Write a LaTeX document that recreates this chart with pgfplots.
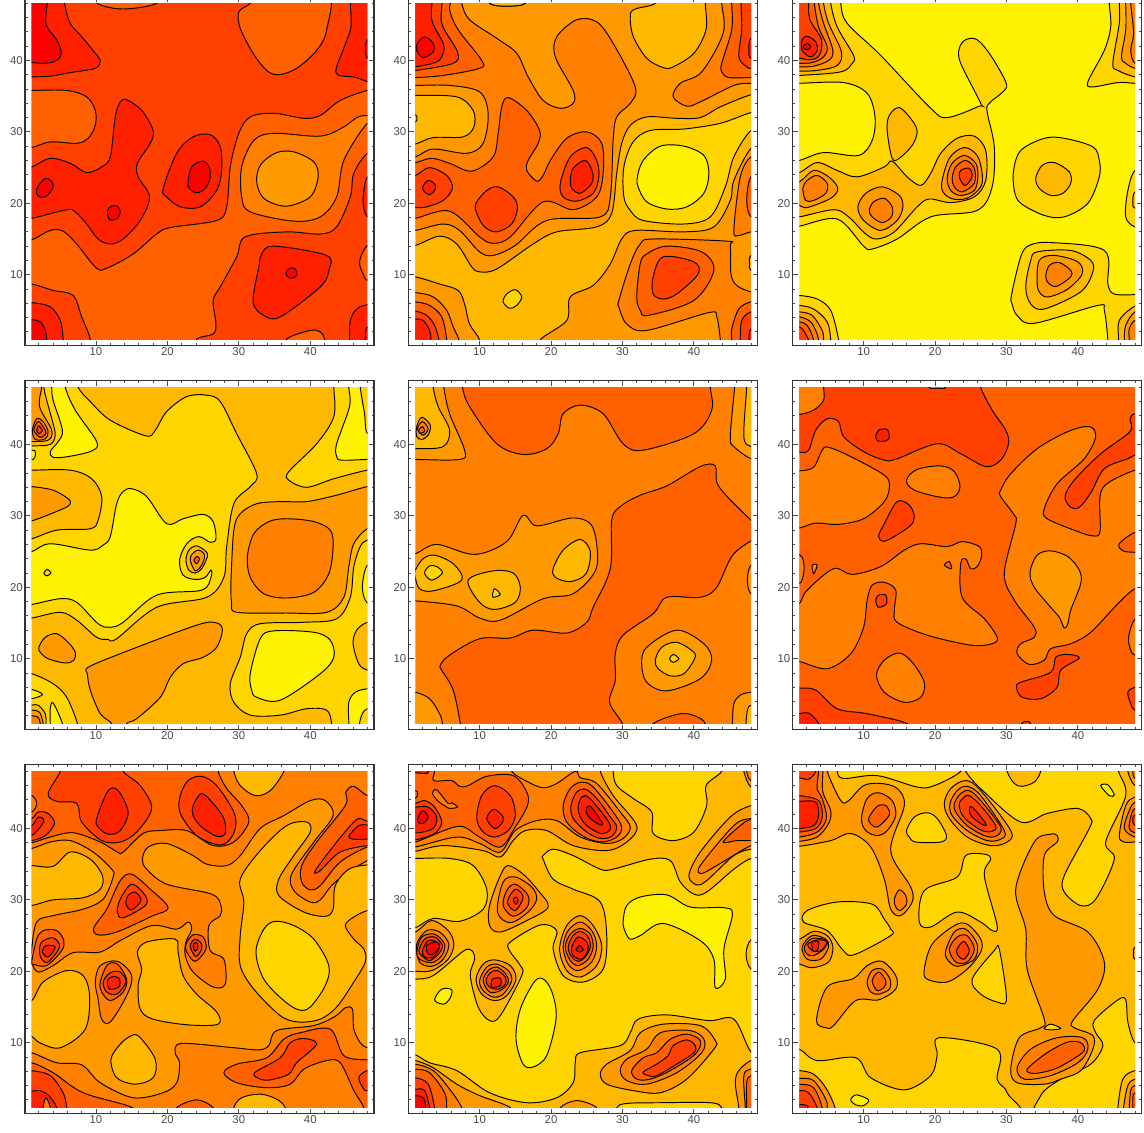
\documentclass[border=0pt]{standalone}
\usepackage{pgfplots}
\pgfplotsset{compat=1.18}
\usepackage{fontspec}
\setmainfont{Liberation Sans}
\definecolor{la}{HTML}{FF0000}
\definecolor{lb}{HTML}{FF2000}
\definecolor{lc}{HTML}{FF4000}
\definecolor{ld}{HTML}{FF6000}
\definecolor{le}{HTML}{FF8000}
\definecolor{lf}{HTML}{FF9900}
\definecolor{lg}{HTML}{FFB800}
\definecolor{lh}{HTML}{FFD500}
\definecolor{li}{HTML}{FFF200}
\pgfplotsset{
  frame/.style={scale only axis,width=174.43pt,height=174.43pt,anchor=south west,
    xmin=0.08,xmax=48.92,ymin=0.08,ymax=48.92,
    xtick={10,20,30,40},ytick={10,20,30,40},
    minor xtick={2,4,...,48},minor ytick={2,4,...,48},
    tick align=inside,major tick length=2.4pt,minor tick length=1.2pt,
    every tick/.style={black!70,line width=.4pt},
    axis line style={black!80,line width=.65pt},
    tick label style={font=\fontsize{5.7}{6}\selectfont,text=black!70,inner sep=1pt},
    /pgf/number format/assume math mode=true},
  field/.style={scale only axis,width=167.85pt,height=167.85pt,anchor=south west,
    xmin=1,xmax=48,ymin=1,ymax=48,hide axis},
}
\newcommand\R[2]{\addplot[fill=#1,draw=black,line width=.48pt,smooth cycle,tension=.55] coordinates {#2};}
\newcommand\B[1]{\addplot[fill=#1,draw=none] coordinates {(-1,-1)(50,-1)(50,50)(-1,50)} --cycle;}
\begin{document}
\begin{tikzpicture}
\useasboundingbox (0,0) rectangle (572pt,566pt);
\clip (0,0) rectangle (572pt,566pt);
% ---- row 1, left
\begin{axis}[frame,at={(12.56pt,393.21pt)}]\end{axis}
\begin{axis}[field,at={(15.85pt,396.5pt)}]
\B{lc}
\R{ld}{(10.2,50)(10.2,48)(13.8,47.2)(18.5,48)(18.5,50)}
\R{lb}{(5.5,50)(5.6,48)(6.4,45.2)(8.2,43.1)(10.3,40.5)(10.6,39.9)(9.9,38.9)(6.4,38.3)(3.6,37.8)(1,37.7)(-1,37.7)(-1,50)}
\R{la}{(3,50)(3,45.2)(4.5,42.9)(5.1,41.4)(5,40.5)(4.1,39.8)(2.6,39.6)(1,39.7)(-1,39.7)(-1,50)}
\R{ld}{(33,50)(31.6,48)(30,46.8)(30.2,44.5)(32,41)(33.9,38.6)(35.6,38)(38.1,38.9)(40.9,41.4)(42.3,44.3)(42.3,50)}
\R{lb}{(45.6,50)(45.6,48)(45.7,44.7)(44.8,42)(43.7,39.1)(43.8,38)(46,37.7)(50,37.7)(50,50)}
\R{la}{(48.1,43)(47.7,41.5)(48.1,40.2)(50,40)(50,43)}
\R{ld}{(-1,35.8)(1,35.8)(5.9,35.8)(8.7,34.9)(9.9,33)(9.9,30.9)(8.9,29.1)(7.3,28.4)(3.6,28.6)(1,27.8)(-1,27.8)}
\R{lb}{(-1,25.1)(1,25.1)(3.6,26.3)(6.4,25.6)(8.7,24.3)(10.8,25.1)(12,26.5)(12.7,32.1)(13.4,34.2)(14.3,34.5)(16.4,33)(18,30.2)(17.6,28.4)(15.8,25.6)(15.9,23.7)(17.5,20.9)(16.2,17.6)(13.8,15)(12,14.3)(10.3,15)(8.7,17.1)(7.1,18.8)(5.9,19.1)(1,17.9)(-1,17.9)}
\R{la}{(1.7,22)(2.9,23.5)(3.9,22.9)(3.9,22)(2.9,20.9)(1.9,21)}
\R{la}{(11.6,19)(12.2,19.6)(13,19.6)(13.4,18.8)(13,17.9)(11.9,17.7)}
\R{lb}{(19.4,22)(21.3,27)(23.6,29.3)(26,29.6)(27.4,27.9)(27.6,24.6)(26.9,21.8)(24.6,19.5)(21.8,19.5)(19.9,20.9)}
\R{la}{(22.9,23)(23.4,25.1)(25,25.9)(25.9,24.9)(25.9,23.2)(25,21.8)(23.9,21.5)(23,22.2)}
\R{ld}{(-1,14.9)(1,14.9)(3.6,16.2)(5.4,16.1)(7.3,14.3)(10.1,10.9)(11.7,11)(15.2,12.9)(18.5,15.7)(20.4,16.6)(26.9,17.6)(28.3,19.5)(28.8,25.1)(30,29.8)(31.6,32.1)(34.9,32.6)(39.1,31.9)(41.4,32.3)(44.2,34.4)(48,35.8)(50,35.8)(50,27)(48,27)(46.1,24.2)(45.6,20.9)(43.7,16.7)(41.4,15.7)(36.7,16)(30.9,15.3)(29.7,12.5)(27.4,8.3)(26.4,6.4)(26.8,3.1)(26.4,1.7)(24.1,1)(24,-1)(9.2,-1)(9.2,1)(8,4.1)(6.8,7.1)(4,7.8)(1,8.7)(-1,8.7)}
\R{le}{(50,32)(47,32.2)(44.7,30.7)(41.4,29.4)(34.9,29.8)(32.1,28.8)(30.4,25.1)(30.4,20.9)(31.6,18.8)(37.7,17.5)(41.4,18.1)(43.7,20.9)(44.7,26)(48,31.2)(50,31.2)}
\R{lf}{(32.5,23.7)(33.2,25.6)(35.3,27.1)(37.7,27.2)(40.5,25.8)(41.1,23.7)(40,20.9)(36.7,19.6)(33.9,20.4)(32.8,21.8)}
\R{lb}{(50,23.7)(48,23.7)(47.4,20.4)(48,18.1)(50,18.1)}
\R{lb}{(33.2,12.9)(34.9,14)(42.3,12.7)(42.6,10.6)(41.4,8.3)(35.8,4.1)(33.5,4.3)(32,6.2)(32.8,11.1)}
\R{la}{(36.6,10.1)(37.1,10.9)(37.9,10.8)(38.1,9.9)(37.3,9.5)}
\R{ld}{(50,14.1)(48,14.1)(46.9,11.8)(47.5,9.9)(48,9.2)(50,9.2)}
\R{lb}{(-1,6.1)(1,6.1)(3.6,5.5)(5,3.6)(5.4,1)(5.4,-1)(-1,-1)}
\R{la}{(-1,3.7)(1,3.7)(2.2,3.4)(2.9,2.2)(3.1,1)(3.1,-1)(-1,-1)}
\R{lb}{(45.5,-1)(45.5,1)(45.6,3.6)(46.5,5.2)(48,5.8)(50,5.8)(50,-1)}
\R{la}{(47.7,-1)(47.7,1)(48,2.7)(50,2.7)(50,-1)}
\R{ld}{(36.7,-1)(36.7,1)(40,2.2)(41.4,2)(42,1)(42,-1)}
\end{axis}
% ---- row 1, middle
\begin{axis}[frame,at={(204.36pt,393.21pt)}]\end{axis}
\begin{axis}[field,at={(207.65pt,396.5pt)}]
\B{lf}
\R{lg}{(11.4,50)(11.4,48)(13.8,47.6)(16.4,48)(16.4,50)}
\R{lg}{(-1,14.1)(1,14.1)(4.4,15.4)(6.8,14.3)(8.9,11.1)(10,10.4)(12.4,10.8)(17.5,14.3)(20.8,16)(26.4,16.7)(28.5,18.6)(29.2,24.2)(29.9,28.4)(31.1,30.9)(33.4,32.1)(37.6,31.9)(40.9,32)(43.7,33.5)(48,35.2)(50,35.2)(50,27.7)(48,27.7)(45.6,23.2)(45.1,20.4)(42.8,16.7)(38.6,16)(31.8,16.2)(29.9,15)(28.3,11.5)(25.9,8.5)(22.7,6.9)(22.2,3.6)(18.5,.9)(18.5,-1)(-1,-1)}
\R{le}{(7.5,50)(7.5,48)(8.6,45.7)(12.4,43.1)(15.2,41)(16.8,37.7)(18.9,34.4)(21.3,33.3)(23.1,34)(23.1,35.8)(20.6,40.5)(20.8,43.3)(23.6,45.7)(26.4,45.4)(28.7,42.4)(31.8,36.3)(31.1,34)(29.2,32.1)(28.7,28.8)(28.3,20.9)(26.9,18.1)(19.4,17.6)(15,14.1)(11.9,12.7)(10,13.2)(7.2,16.2)(4.9,17.1)(1,16.2)(-1,16.2)(-1,50)}
\R{lg}{(11.4,50)(11.4,48)(13.8,47.6)(16.4,48)(16.4,50)}
\R{ld}{(5.8,50)(5.8,47.1)(7,44.3)(10.3,40)(10,38.9)(4.9,37.9)(1,37.6)(-1,37.6)(-1,50)}
\R{lc}{(4.4,50)(4.7,45.2)(6.9,41.2)(6.3,39.6)(1,38.6)(-1,38.6)(-1,50)}
\R{lb}{(3.1,50)(3.3,45.7)(4.9,42.4)(4.9,41)(4,39.8)(1,39.1)(-1,39.1)(-1,50)}
\R{la}{(1.3,42.4)(2.3,43.3)(3.5,42.4)(3.5,41.2)(2.1,40.4)(1.2,41.4)}
\R{lf}{(-1,36.5)(1,36.5)(5.8,36.5)(10,35.6)(11.2,32.6)(10.5,28.4)(8.2,27)(3.5,27.6)(1,26.5)(-1,26.5)}
\R{lg}{(-1,35.1)(1,35.1)(6.8,34.9)(9.1,33)(9.2,30.7)(7.7,29.3)(3.5,29.2)(1,28.3)(-1,28.3)}
\R{lh}{(-1,32.4)(1,32.4)(1.2,31.9)(1,31.4)(-1,31.4)}
\R{ld}{(-1,25.7)(1,25.7)(3.3,26.3)(5.8,25.6)(8.9,24.5)(11.9,26.5)(12.6,29.8)(13.1,33.5)(14,34.8)(16.6,33)(18.4,30.2)(18.2,28.4)(16.8,26)(16.6,24.6)(18,23.1)(18.9,23.9)(19.9,26)(22.2,29.1)(25,30)(27.1,28.4)(27.3,24.2)(26.4,20.9)(23.1,19.1)(18.9,20.2)(14.3,15.3)(11.9,14.4)(10,15.3)(5.8,18.9)(1,17.9)(-1,17.9)}
\R{lc}{(-1,23.9)(1,23.9)(3,25)(5.4,23.9)(6.2,22.1)(4.9,20.4)(2.6,19.5)(1,19.4)(-1,19.4)}
\R{lb}{(2,22.1)(2.8,23.2)(3.8,22.6)(3.7,21.8)(2.9,21.2)}
\R{lc}{(9.5,20)(11,21.8)(12.6,22.3)(14.7,20.9)(15.3,19.3)(14.5,17.1)(12.4,16)(10.7,16.7)(9.6,18.6)}
\R{lc}{(21.3,22.8)(22.7,26.5)(25,27.8)(26.4,26)(26.7,23.7)(25.9,21.4)(23.6,20.3)(21.7,20.9)}
\R{lb}{(22.7,23.2)(23.1,24.9)(24.8,26)(25.8,24.4)(25.7,22.8)(24.1,21.4)(22.9,22.1)}
\R{lg}{(31.1,46.3)(31.8,47.2)(34.6,48)(34.6,50)(41.6,50)(41.6,48)(41.7,44.3)(40,41)(37.1,39.1)(35.7,39)(33.4,40.3)(31.5,43.4)}
\R{le}{(50,36.8)(48,36.8)(45.6,36.5)(40.9,34.2)(39,33.6)(37.1,34.9)(38.1,36.8)(41.1,38.4)(44.1,43.8)(43.9,48)(43.9,50)(50,50)}
\R{ld}{(45.3,50)(45.3,48)(45.3,44.3)(43.9,39.6)(43.9,38.4)(44.9,37.6)(48,37.6)(50,37.6)(50,50)}
\R{lc}{(46.6,50)(46.6,48)(46.7,44.3)(46.3,40.5)(47.4,39.1)(48,38.9)(50,38.9)(50,50)}
\R{lb}{(50,43.1)(48,43.1)(47.7,41.4)(48,40.3)(50,40.3)}
\R{lh}{(50,32.7)(48,32.7)(43.7,31.2)(38.6,30.4)(33.9,30.2)(31.5,28.6)(30.2,25.1)(30.2,20.9)(31.1,19)(32.9,17.6)(38.6,17.1)(42.3,18.1)(44.4,22.3)(45.6,26.5)(48,30.2)(50,30.2)}
\R{li}{(32.1,23.7)(32.9,26)(35.3,28)(38.6,28)(41.4,26.7)(42.1,24.2)(41.4,21.4)(39,19.5)(36.2,19.2)(33.4,20.2)(32.2,22.3)}
\R{le}{(50,26.5)(48,26.5)(46.5,23.7)(45.6,16.2)(46.3,15.5)(48,16)(50,16)}
\R{ld}{(50,23.7)(48,23.7)(47.4,20.4)(48,18.1)(50,18.1)}
\R{lg}{(50,12.7)(48,12.7)(47.8,11.5)(48,10.6)(50,10.6)}
\R{le}{(29.5,6.4)(31.1,11.5)(32.5,14.3)(34.3,15)(44.6,14.7)(45.1,14.1)(45.2,10.1)(46,8.5)(48,7.6)(50,7.6)(50,-1)(43.7,-1)(43.7,.9)(43.2,4.1)(42.1,4.7)(33.4,2.2)(30.6,3.1)(29.5,5.5)}
\R{ld}{(32,6.9)(32.5,11.6)(33.4,12.9)(36.2,14)(41.1,13.2)(42.8,10.6)(40,6.4)(33.6,4.3)(32.5,5)}
\R{lc}{(34.3,9.7)(35.7,12.5)(40,11.8)(40.6,10.1)(37.6,7.3)(35.7,6.6)(34.3,7.3)}
\R{lf}{(-1,9.7)(1,9.7)(4.4,8.7)(7,7.8)(7.9,5.9)(8.6,3.1)(10,.9)(10,-1)(-1,-1)}
\R{le}{(-1,7.5)(1,7.5)(3.5,6.9)(5.4,5)(6.3,2.7)(7.1,.9)(7.1,-1)(-1,-1)}
\R{ld}{(-1,6.2)(1,6.2)(3,5.7)(4.7,4.1)(5.4,.9)(5.4,-1)(-1,-1)}
\R{lc}{(-1,4.9)(1,4.9)(2.6,4.3)(3.7,2.9)(4.3,.9)(4.3,-1)(-1,-1)}
\R{lb}{(-1,3.8)(1,3.8)(2.1,3.6)(3,2.2)(3.2,.9)(3.2,-1)(-1,-1)}
\R{lh}{(13.3,6.2)(13.8,7.3)(15,7.9)(15.9,6.9)(15.2,5.7)(14.2,5.3)}
\R{ld}{(45.3,-1)(45.3,.9)(45.3,2.4)(46.3,5.2)(48,6.2)(50,6.2)(50,-1)}
\R{lc}{(46.5,-1)(46.5,.9)(46.7,3.6)(48,4.8)(50,4.8)(50,-1)}
\R{lb}{(47.7,-1)(47.7,.9)(48,2.4)(50,2.4)(50,-1)}
\end{axis}
% ---- row 1, right
\begin{axis}[frame,at={(396.36pt,393.21pt)}]\end{axis}
\begin{axis}[field,at={(399.65pt,396.5pt)}]
\B{li}
\R{lh}{(6.8,50)(6.8,48)(7.7,45.2)(12.4,40.7)(19.4,33.3)(21.7,32)(26.2,33.6)(26.4,34)(23.6,39.6)(23.4,41.7)(24.3,42.9)(25.9,42.9)(27.8,40.7)(29.9,37)(29.7,35.8)(27.6,34)(27.3,32.8)(28.3,27.9)(28,22.3)(25.9,19)(19.4,18.1)(14.7,15)(11.2,13.6)(10,14)(6.3,17.8)(1,16.8)(-1,16.8)(-1,50)}
\R{li}{(-1,36.8)(1,36.8)(7.2,36.9)(10.5,35.4)(11.6,32.1)(11.2,28.8)(9.3,26.7)(4.4,27.1)(1,26)(-1,26)}
\R{lg}{(-1,24.3)(1,24.3)(3.5,25.7)(6.3,24.6)(9.1,23.7)(12.9,25.1)(14,25.9)(16.1,23.7)(18,22.5)(19.4,24.2)(20.8,27)(23.1,29.1)(25.5,29.4)(27.1,27.4)(27.1,23.2)(25.5,20.9)(22.2,20.1)(19.2,20.6)(17.5,19.5)(14.3,16)(11.9,15)(10.3,15.7)(7.9,18.1)(5.8,19.1)(1,18.1)(-1,18.1)}
\R{lg}{(5.4,50)(5.4,48)(6.3,44.7)(8.6,40.7)(8.4,39.6)(6.8,38.4)(1,37.9)(-1,37.9)(-1,50)}
\R{lf}{(4.4,50)(4.4,48)(5.1,45.2)(6.9,41.2)(6.3,39.3)(3.5,38.6)(1,38.5)(-1,38.5)(-1,50)}
\R{le}{(3.7,50)(3.7,48)(4.4,45.2)(5.7,41.4)(5.1,40)(3,39.2)(1,39.1)(-1,39.1)(-1,50)}
\R{ld}{(3.1,50)(3.1,48)(3.7,44.7)(4.9,41.9)(4.4,40.5)(2.8,39.7)(1,39.6)(-1,39.6)(-1,50)}
\R{lc}{(2.3,50)(2.3,48)(2.5,45.7)(4.1,42.9)(3.8,40.7)(2.5,40.1)(1,40.3)(-1,40.3)(-1,50)}
\R{lb}{(1.4,42.9)(2.1,43.4)(3.3,42.6)(3.5,41.4)(2.6,40.5)(1.4,41.4)}
\R{la}{(1.5,41.9)(2.1,42.4)(2.6,41.9)(2.1,41.5)}
\R{lf}{(-1,23)(1,23)(3,24.6)(5.1,23.7)(6.4,22.1)(5.4,20.7)(2.1,19.4)(1,19.7)(-1,19.7)}
\R{le}{(1.5,22.1)(2.1,23.2)(3.5,23.9)(4.9,22.8)(4.7,21.4)(3,20.4)(1.9,20.4)}
\R{lf}{(9.2,19.5)(10.3,21.4)(12.6,22.3)(15,21.1)(15.5,19.5)(14.7,17.6)(12.4,16.2)(10,17.6)}
\R{le}{(10.8,19)(11.4,20.2)(12.9,20.7)(14,19.5)(13.9,18.1)(12.6,17.3)(11.2,18.1)}
\R{lg}{(13.3,30.2)(13.6,32.3)(15,33.4)(16.8,31.6)(17.5,30)(16.8,28.1)(15,26.3)(14,26.3)}
\R{lf}{(20.9,22.3)(22,26.3)(24.1,27.8)(25.9,26.7)(26.6,24.2)(26.4,22.3)(24.5,20.7)(22.2,20.7)}
\R{le}{(21.7,23.5)(22.4,25.6)(24.1,26.7)(25.7,25.6)(26,23.7)(25.5,21.8)(23.6,21.1)(22.2,21.8)}
\R{ld}{(22.4,23.5)(22.9,25.1)(24.3,26)(25.5,24.9)(25.5,22.8)(23.8,21.6)(22.7,22.3)}
\R{lc}{(23.4,23.7)(23.6,24.6)(24.8,24.9)(25.2,23.9)(24.8,23)(24.1,22.5)}
\R{lh}{(31,24.6)(32,27.4)(35.3,29.1)(38.1,29.1)(42.1,27.9)(43,26)(43,23.7)(41.4,20)(38.1,18.1)(35.3,18.3)(32,20)(31.1,21.8)}
\R{lg}{(34.1,23.5)(35,25.3)(36.7,25.7)(38.8,24.4)(39,22.8)(37.9,21.4)(36.2,21.1)(34.6,22.1)}
\R{lh}{(50,24.6)(48,24.6)(47,21.8)(46.7,18.1)(48,16.7)(50,16.7)}
\R{lg}{(50,21.6)(48,21.6)(47.7,20)(48,19.3)(50,19.3)}
\R{lh}{(30.7,7.1)(32,12.5)(33.2,14.1)(36.2,14.5)(43.7,13.4)(44.2,8.7)(45.1,7.3)(48,7.2)(50,7.2)(50,-1)(44.2,-1)(44.2,.9)(43.7,5)(42.8,5.7)(33.9,3.2)(31.5,4.3)(30.8,5.9)}
\R{lg}{(32.7,8.3)(33.4,12)(34.3,13.2)(39,13.4)(41.8,12)(42.1,10.4)(40.4,7.6)(35.3,5.2)(33.4,5.9)}
\R{lf}{(34.3,8.7)(34.6,12)(36.7,12.7)(40,11.8)(40.6,10.1)(38.6,8)(36,6.9)(34.8,7.3)}
\R{le}{(35.5,9.7)(36,11.3)(37.4,11.7)(39,10.6)(39,9.7)(37.1,8.4)(36,8.7)}
\R{lh}{(-1,7.1)(1,7.1)(3.5,6.6)(5.4,5)(6.5,.9)(6.5,-1)(-1,-1)}
\R{lg}{(-1,5.7)(1,5.7)(3,5.2)(4.9,3.4)(5.4,.9)(5.4,-1)(-1,-1)}
\R{lf}{(-1,4.8)(1,4.8)(2.8,4.3)(4.2,2.2)(4.4,.9)(4.4,-1)(-1,-1)}
\R{le}{(-1,4.1)(1,4.1)(2.6,3.4)(3.5,1.7)(3.7,.9)(3.7,-1)(-1,-1)}
\R{ld}{(-1,3.4)(1,3.4)(2.1,2.9)(3,.9)(3,-1)(-1,-1)}
\R{lc}{(-1,2.7)(1,2.7)(1.9,1.7)(2.3,.9)(2.3,-1)(-1,-1)}
\R{lg}{(45.7,-1)(45.7,.9)(45.8,3.6)(48,5.6)(50,5.6)(50,-1)}
\R{lf}{(46.5,-1)(46.5,.9)(46.7,2.9)(48,4.8)(50,4.8)(50,-1)}
\R{le}{(47.2,-1)(47.2,.9)(47.2,2.4)(48,3.6)(50,3.6)(50,-1)}
\R{lh}{(44.4,50)(44.4,48)(44.6,44.7)(43.7,41.4)(41.4,37)(42.1,36.3)(45.6,36.9)(48,36.8)(50,36.8)(50,50)}
\R{lg}{(45.8,50)(45.8,48)(45.8,45.2)(44.9,39.6)(45.6,38.6)(48,37.7)(50,37.7)(50,50)}
\R{lf}{(46.7,50)(46.7,48)(46.7,44.3)(46.1,40.5)(46.7,39.6)(48,38.9)(50,38.9)(50,50)}
\R{le}{(47.4,50)(47.4,48)(47.8,43.8)(47.4,41.4)(48,39.6)(50,39.6)(50,50)}
\end{axis}
% ---- row 2, left
\begin{axis}[frame,at={(12.56pt,201.21pt)}]\end{axis}
\begin{axis}[field,at={(15.85pt,204.5pt)}]
\B{lg}
\R{lh}{(-1,15.7)(1,15.7)(5,16.5)(7.3,15.4)(10.1,13)(11.7,12.7)(12.9,12.8)(18.5,17.2)(25.5,18.6)(27.9,21.4)(28.3,25.7)(29.3,31.7)(31.6,34.1)(32.5,35.9)(29.7,41.5)(27.4,46)(25.5,46.9)(22.7,46.7)(19.9,44.6)(18.3,42)(17,41.2)(12,43.4)(9.2,46)(7.5,48)(7.5,50)(-1,50)}
\R{lg}{(-1,36.4)(1,36.4)(6.4,36.4)(9.4,35.2)(10.8,32.7)(10.3,29.4)(9.2,28.2)(4.5,28)(1,26.8)(-1,26.8)}
\R{lf}{(-1,34.1)(1,34.1)(4,33.6)(6.1,32.4)(6.4,31.7)(5.4,31)(1,29.3)(-1,29.3)}
\R{lg}{(-1,39.8)(1,39.8)(3.6,40)(4.3,41.3)(4,42.9)(3.1,46.2)(2.7,48)(2.7,50)(-1,50)}
\R{lf}{(-1,40.4)(1,40.4)(3.3,40.6)(3.8,42)(2.1,45.3)(2.4,48)(2.4,50)(-1,50)}
\R{le}{(1.1,42)(1.7,43.6)(2.6,43.2)(3.3,41.8)(2.9,40.8)(1.5,40.7)}
\R{ld}{(1.3,42)(1.9,43.2)(2.6,42.5)(3,41.6)(2.2,41)}
\R{lc}{(1.7,42)(2,42.6)(2.5,41.9)(2,41.5)}
\R{li}{(3.8,50)(3.8,48)(4,46.2)(5.3,42)(4.7,40.4)(3.6,39)(4,38.2)(6.1,38.3)(9.4,39.1)(10.1,40.4)(7.1,44.8)(5.7,48)(5.7,50)}
\R{li}{(-1,39.2)(1,39.2)(1.5,39)(1.2,37.9)(-1,37.9)}
\R{li}{(-1,25)(1,25)(3.6,26.1)(9.2,25.2)(11,25.9)(12,27.1)(12.9,31.7)(13.8,33.4)(15,33.8)(17.1,32.7)(19.9,28.9)(22.2,29.6)(25,30.2)(26.4,29.2)(26.8,26.8)(26,26.3)(24.4,27.1)(22.7,26.1)(21.7,23.8)(22.2,21.7)(23.9,21.1)(25.3,21.4)(26.1,22.4)(26.1,21.4)(24.8,19.6)(18.5,18.9)(13.8,15.1)(12,14.4)(10.3,14.9)(7.3,17.9)(5,18.4)(1,17.6)(-1,17.6)}
\R{lg}{(22.6,23.8)(23,25.2)(24.1,25.8)(25.4,25)(25.6,24.3)(24.8,22.6)(23.9,22)(23,22.4)}
\R{lf}{(23.2,23.8)(23.5,24.7)(24.4,25.2)(25.2,24.5)(24.8,23.1)(23.9,22.3)}
\R{ld}{(23.7,23.8)(24.1,24.3)(24.5,24)(24.1,23.3)}
\R{lh}{(2.7,22)(3.2,22.5)(3.7,22)(3.1,21.6)}
\R{lf}{(2,11.6)(2.9,13)(4.5,13.5)(6.1,12.3)(7.1,10.9)(6.9,9.8)(5.7,9.4)(3.3,10)(2.2,10.9)}
\R{lf}{(8.9,8.8)(13.4,10.7)(24.1,14.7)(26.9,15)(27.7,14)(26.9,11.6)(25,10.2)(22.2,9.3)(20.4,7.4)(19,4.6)(15.7,1.6)(14.3,.9)(14.3,-1)(12.2,-1)(12.2,.9)(10.6,2.3)(9.2,5.6)(8.8,7.9)}
\R{lf}{(29,17.7)(28.9,19.1)(28.9,21)(29.3,28)(30.2,30.3)(32.5,31.7)(35.8,32)(39.5,32)(43.7,32.9)(48,34.1)(50,34.1)(50,28.2)(48,28.2)(46.1,26.1)(45.4,22.9)(44.7,18.6)(42.3,16.5)(36.7,16.4)(29.7,16.5)}
\R{le}{(31.2,24.3)(32.1,27.5)(34.2,29.2)(36.7,29.6)(40.5,29.2)(42.8,28)(43.2,25.7)(42.6,21.9)(40.5,19.3)(36.7,18.5)(33.5,19.1)(31.6,21.4)}
\R{lh}{(43.3,50)(43.3,48)(43.3,43.9)(40.9,40.1)(37,36.2)(37,35)(39.5,34)(43.3,35.2)(48,36.4)(50,36.4)(50,50)}
\R{li}{(45.4,50)(45.4,48)(45.5,45.3)(43.7,40.1)(43.7,38.3)(44.4,37.8)(48,37.9)(50,37.9)(50,41.5)(48,41.5)(47.6,44.3)(47,48)(47,50)}
\R{lh}{(28.8,6.5)(30.2,10.2)(31.1,13.5)(33,14.9)(39.1,15.1)(43.7,15.6)(45.6,18.6)(46.1,22.9)(47,25.7)(48,26.6)(50,26.6)(50,-1)(43,-1)(43,.9)(42.3,2.8)(39.5,3)(35.8,2.1)(31.6,2.1)(29.3,3.9)}
\R{li}{(31.6,7.9)(33,12.8)(34.9,13.9)(40.5,13.7)(42.8,12.6)(43.3,10.2)(41.4,7.9)(35.8,4.2)(32.5,4.6)(31.8,5.6)}
\R{lg}{(50,15.1)(48,15.1)(46.5,14)(46,12.1)(46.8,9.3)(48,8.4)(50,8.4)}
\R{li}{(50,23.1)(48,23.1)(47.3,20)(48,17.8)(50,17.8)}
\R{li}{(45.4,-1)(45.4,.9)(45.4,3.9)(46.3,5.3)(48,5.8)(50,5.8)(50,-1)}
\R{lh}{(46.9,-1)(46.9,.9)(47.3,2.3)(48,3)(50,3)(50,-1)}
\R{lh}{(-1,7.9)(1,7.9)(4,6.5)(5.9,4.6)(7.4,.9)(7.4,-1)(-1,-1)}
\R{li}{(-1,5.7)(1,5.7)(2.5,5)(1,4.4)(-1,4.4)}
\R{li}{(3.6,-1)(3.6,.9)(3.6,3)(4,3.8)(5.3,.9)(5.3,-1)}
\R{lg}{(-1,3.5)(1,3.5)(1.9,3.5)(2.9,2.3)(3,.9)(3,-1)(-1,-1)}
\R{lf}{(-1,2.8)(1,2.8)(2.1,2.5)(2.6,.9)(2.6,-1)(-1,-1)}
\R{le}{(-1,2)(1,2)(1.9,1.8)(2.2,.9)(2.2,-1)(-1,-1)}
\end{axis}
% ---- row 2, middle
\begin{axis}[frame,at={(204.36pt,201.21pt)}]\end{axis}
\begin{axis}[field,at={(207.65pt,204.5pt)}]
\B{le}
\R{ld}{(7.6,50)(7.6,48)(8.6,45.3)(12.4,40.1)(16.1,38.6)(19.4,39.4)(21,41.5)(21.7,44.3)(24.1,45.5)(27.3,44.3)(30.1,40.1)(32.9,39.2)(40,41.5)(42.5,44.8)(42.3,48)(42.3,50)}
\R{ld}{(4.5,9.1)(5.8,10.5)(10,12.8)(14.3,12.9)(17.5,14)(22.2,13.6)(25,15.1)(25.9,17.2)(28.3,22.6)(28.5,29.4)(29.7,31.3)(32.5,32.9)(36.2,34.2)(40.9,36.9)(43,37)(43.5,34.1)(48,29.4)(50,28)(45.6,24.7)(43.2,20)(40.9,18.6)(36.2,18.6)(34.3,16.3)(30.1,13.3)(29,10.7)(29,7)(28.2,3.9)(30,.9)(30,-1)(7.3,-1)(7.3,.9)(6.3,5.6)(4.7,8.4)}
\R{lf}{(-1,24.7)(1,24.7)(4,26)(9.3,24.6)(13.8,26.4)(16.1,30.1)(18,28.6)(22.9,29.7)(25.5,28.9)(26.4,26)(26.2,22.3)(23.1,19.1)(18.9,18.4)(12.9,15.4)(10,15.7)(6.8,17.4)(1,18.1)(-1,18.1)}
\R{lg}{(1,22.4)(2.1,24)(3.7,24.5)(6.3,23.3)(7.5,21)(3.5,19.5)(1.6,19.8)(1,21.4)}
\R{lh}{(2.3,22)(3,23)(4,22.9)(4.8,22)(3.3,21)}
\R{lg}{(8.4,21)(11.9,22.3)(14.7,22)(15.7,20)(15,17.9)(12.1,16.9)(10,17.9)}
\R{lh}{(11.8,18.9)(12.1,19.8)(12.9,19)(12,18.6)}
\R{lg}{(20.3,22.6)(21.7,25.2)(24.1,26.7)(25.5,25)(24.9,21.9)(22.7,20.8)(20.6,21.4)}
\R{lf}{(5,50)(5,48)(5.8,44.3)(7.9,39.2)(7.2,37.9)(1,37.9)(-1,37.9)(-1,50)}
\R{lg}{(3.5,50)(3.5,48)(4.2,45.3)(5.8,42)(4.9,39.7)(1,39.4)(-1,39.4)(-1,50)}
\R{lf}{(1.2,42.5)(1.9,43.8)(3.1,42.7)(2.8,41.3)(1.9,40.7)(1.2,41.1)}
\R{le}{(1.3,42.2)(2,43.2)(2.8,42.2)(2.1,41.3)}
\R{ld}{(1.5,42)(2,42.5)(2.3,41.8)(1.6,41.6)}
\R{lf}{(45.7,50)(45.7,48)(45.1,41.1)(45.6,39.7)(48,38)(50,38)(50,50)}
\R{lg}{(47.4,50)(47.4,48)(47,41.1)(48,39.7)(50,39.7)(50,50)}
\R{lf}{(50,23.1)(48,23.1)(47.5,21)(48,19.1)(50,19.1)}
\R{lf}{(-1,5.3)(1,5.3)(3,4.4)(4.4,2.3)(4.8,.9)(4.8,-1)(-1,-1)}
\R{lf}{(45.4,-1)(45.4,.9)(45.6,3.7)(46.5,4.9)(48,5.3)(50,5.3)(50,-1)}
\R{lg}{(47.3,-1)(47.3,.9)(47.5,2.8)(48,3.5)(50,3.5)(50,-1)}
\R{ld}{(34.3,-1)(34.3,.9)(38.1,2.3)(40.4,1.9)(41.6,.9)(41.6,-1)}
\R{lf}{(32.7,9.3)(33.4,11.6)(37.6,14)(41.4,12.1)(42.5,9.8)(40.9,7.2)(36.2,5.5)(33.4,6.7)}
\R{lg}{(34.6,9.8)(35.5,11.6)(37.6,12.3)(40,10.9)(40,9.8)(38.6,7.9)(36.7,7.6)(35,8.6)}
\R{lh}{(36.6,10)(37.1,10.6)(37.9,10)(37.1,9.5)}
\end{axis}
% ---- row 2, right
\begin{axis}[frame,at={(396.36pt,201.21pt)}]\end{axis}
\begin{axis}[field,at={(399.65pt,204.5pt)}]
\B{ld}
\R{lc}{(-1,38.9)(1,38.9)(2.3,39.2)(3.3,42)(4.9,43.6)(6.5,43.2)(7.2,41.1)(10,39)(12.9,37.8)(14.7,38)(20.3,40.1)(23.6,38.7)(27.1,36.9)(29.2,37.8)(30.3,40.1)(29.9,42)(28,44.8)(26.4,48)(26.4,50)(-1,50)}
\R{le}{(-1,44.2)(1,44.2)(3,44.8)(4.4,46.2)(4.4,48)(4.4,50)(-1,50)}
\R{lb}{(11.7,41.1)(12.1,42)(13.3,42.1)(13.6,41)(13.1,40.5)(12,40.5)}
\R{le}{(19.2,50)(19.2,48)(20.3,47.9)(21.5,48)(21.5,50)}
\R{le}{(-1,36.3)(1,36.3)(3,36.8)(4.2,39.2)(5.1,39.6)(8.2,38.3)(12.9,35.7)(13.6,34.1)(12.9,32)(10,29.6)(6.3,28.8)(3.3,29)(1,28.3)(-1,28.3)}
\R{le}{(16,35)(17.5,36.5)(20.8,37)(22.7,36.2)(23.5,34.1)(22.7,32.7)(20.8,32.6)(17.1,33.6)}
\R{lc}{(12.1,27.1)(12.9,28.9)(14.7,32)(16.4,31.5)(17.1,29.9)(16.4,28.5)(13.1,26.5)}
\R{le}{(-1,16)(1,17.7)(2.1,19.6)(5.8,22.6)(8.4,21.8)(12.4,22.9)(15.7,25.2)(18,26.1)(21.7,25.7)(23.8,26.4)(26.2,25.7)(26.5,24.3)(25.9,22.9)(25,22.6)(24.3,24)(23.6,23.3)(23.8,18.6)(26.9,15.6)(28.7,13)(28,12.1)(25,11.9)(18.9,13.3)(14.7,15.1)(14.3,16.8)(14.5,19.6)(12.9,20.7)(11.2,20.3)(10.5,18.2)(10,14.4)(8.2,10.7)(4.9,8.6)(1,9.6)(-1,9.6)}
\R{lc}{(11.7,18.2)(12.1,18.9)(13.1,18.9)(13.2,17.7)(12.1,17.2)}
\R{ld}{(21.3,23.1)(22,23.6)(22.3,22.6)}
\R{le}{(2.8,23.1)(3.5,23.1)(3,21.9)}
\R{le}{(-1,24.6)(1,24.6)(1.6,23.6)(1.6,21.9)(1,20.5)(-1,20.5)}
\R{le}{(29.2,33.6)(30.6,35.9)(34.3,39.4)(38.6,41.8)(41.6,42.5)(42.5,41.1)(40.9,38)(37.1,34.5)(35.3,31)(35.7,29.6)(40,27.8)(42.1,27.2)(43.1,27.8)(43.1,32.7)(44.2,34.6)(48,36.4)(50,36.4)(50,19.8)(48,19.8)(45.6,17.7)(41.8,13.7)(39,12.1)(36.2,11.4)(35.3,9.8)(33.2,9.2)(31.5,10.7)(32,12.1)(33.9,13)(33.9,14.4)(31.1,18.2)(29.7,21.9)(31.3,28.9)(31.1,30.1)(29.2,32.7)}
\R{ld}{(50,27.7)(48,27.7)(45.8,26.1)(46.3,25.1)(48,24.9)(50,24.9)}
\R{lf}{(33.3,22.1)(34.3,24.5)(36.2,25.1)(38.6,24.3)(40.2,22.4)(40.4,20.5)(39,16.8)(38.6,14.9)(38.1,14.3)(37.4,15.8)(36.2,17.2)(33.9,20)}
\R{lc}{(50,43.5)(48,44.3)(47.3,43.6)(47.3,41.8)(43.2,38.7)(39.5,35)(38.2,32.7)(39,31.2)(40.2,31.2)(41.8,33.2)(43.7,36.6)(47,38)(48,38.5)(50,38.5)}
\R{lc}{(31.4,6)(32,6.7)(36.2,8.1)(36.9,10.2)(38.6,10.6)(40.2,10.1)(37.6,8.4)(37.1,6)(34.8,4.4)(32.2,4.6)}
\R{le}{(11.8,7.7)(12.9,9.8)(15,10.8)(16.8,9.5)(18.5,6.7)(18,4.6)(15.7,3.9)(12.9,5.3)}
\R{le}{(50,15.5)(48,15.5)(47.1,13)(47.4,11.2)(48,10.5)(50,10.5)}
\R{lc}{(50,6)(48,6)(47,5.3)(47.4,3.7)(48,2.8)(50,2.8)}
\R{lc}{(-1,5.9)(1,5.9)(3.3,5.6)(6.3,3)(10.5,2.3)(16.1,.9)(16.1,-1)(-1,-1)}
\R{lb}{(-1,2.3)(1,2.3)(2.3,2.4)(3.7,.9)(3.7,-1)(-1,-1)}
\R{lc}{(32.1,-1)(32.1,.9)(32.9,1.2)(33.4,.9)(33.4,-1)}
\end{axis}
% ---- row 3, left
\begin{axis}[frame,at={(12.56pt,9.21pt)}]\end{axis}
\begin{axis}[field,at={(15.85pt,12.5pt)}]
\B{lf}
\R{le}{(-1,37.2)(1,37.2)(3.6,38.1)(6.4,38.3)(9.6,36.7)(12.2,34.3)(12.4,33.2)(11,30.1)(8.2,28.7)(4,27.8)(1.7,26.9)(1,23.1)(1,21.3)(1.9,19.9)(4,20.8)(6.8,22.6)(10.6,22.7)(13.4,24.3)(17.8,26.4)(21.3,25.9)(22.9,26.9)(23.4,25.9)(22.6,24.1)(22.5,22.2)(23.6,19.9)(26.4,17.8)(28.1,18.2)(27.9,21.7)(26,22.9)(25.8,26.4)(27.4,27.8)(27.5,29.2)(26.2,30.8)(19.9,32.2)(17.1,34.3)(16.5,35.7)(17.3,37.4)(19.9,37.9)(23.6,36.2)(25.5,35)(28.3,34.8)(30.2,36.2)(33,40)(36.3,41.8)(40,43.9)(42.1,43.9)(43.2,41.8)(40.5,38.1)(37.4,33.6)(37.7,31.3)(40,29.7)(41.4,30)(43.5,32.5)(48,35.5)(50,35.5)(50,50)(-1,50)}
\R{lg}{(-1,34.8)(1,34.8)(4,34.7)(6.4,36.7)(9.2,35.7)(10.9,33.4)(10.6,31.5)(8.2,30.3)(4,30)(1,29.2)(-1,29.2)}
\R{lg}{(29.3,50)(29.3,48)(30.2,46)(32.3,44.6)(34.4,45.3)(36.3,48)(36.3,50)}
\R{lg}{(30.2,32.9)(33,36.9)(36.7,40.4)(39.5,40.9)(40,39.5)(37.7,36.2)(35.6,32.9)(35.6,30.6)(39.1,28.3)(42.1,27.7)(43.2,28.7)(43.5,32)(45.4,34.3)(48,34.9)(50,34.9)(50,28.5)(48,28.5)(46.1,27.6)(44.9,26.4)(46.1,24.5)(47.5,23.1)(47.7,21.3)(46.1,18.5)(43.7,15)(41.4,13.3)(38.4,12.9)(35.8,13.8)(32.1,17.5)(30.2,20.8)(30.2,25)(30.7,29.7)}
\R{lh}{(32.4,22.7)(33.5,25.9)(35.1,27)(37.7,26.4)(40.5,24.5)(42.6,20.8)(42.1,18)(40,15)(38.4,14.6)(36.3,15.9)(33.5,18.9)}
\R{ld}{(-1,38)(1,38)(3.6,38.8)(6.8,39.4)(10.6,38.1)(13,36.7)(13.8,36.7)(16.6,39.3)(19,39.7)(22.7,39.7)(26.4,37.6)(29.3,38.1)(31.4,40.9)(30.4,43.2)(28.3,45.6)(27.1,48)(27.1,50)(-1,50)}
\R{lc}{(5,50)(5,48)(3.3,44.9)(4.5,43.8)(7.3,43.5)(8,40.9)(10.8,38.3)(13.4,38.1)(15.7,39.5)(17.8,42.8)(16.2,46)(13.8,48)(13.8,50)}
\R{lb}{(10.1,41.4)(11.7,45.3)(13.1,45.3)(14.5,42.3)(13.4,39.7)(11.7,39.2)(10.3,40.2)}
\R{le}{(-1,44.6)(1,44.6)(1.7,43.5)(1,42.3)(-1,42.3)}
\R{lc}{(-1,38.3)(1,38.3)(2.9,39)(4.2,40.7)(3.3,42.1)(1.9,42.3)(1,41.4)(-1,41.4)}
\R{lb}{(-1,40.4)(1,40.4)(1.9,41.6)(2.7,41)(1,39)(-1,39)}
\R{lc}{(21.8,44.6)(22.9,46.7)(24.8,47.3)(26.9,46)(29.3,42.3)(29.5,40)(28.6,38.3)(27.1,37.7)(24.1,39)(21.8,42.1)}
\R{lb}{(23.6,43.2)(24.8,44.9)(26.4,43.5)(27.9,41.4)(28.1,39.3)(26.9,38.9)(24.8,40.2)(23.6,41.8)}
\R{ld}{(50,44.6)(48,44.6)(46.1,45.9)(45,45.1)(44.9,43.2)(40.9,38.1)(38.8,34.8)(38.8,32.5)(40,31.4)(41.4,32)(44.2,35.3)(48,37.4)(50,37.4)}
\R{lc}{(50,41)(48,41)(47,41.4)(46.1,40.9)(43.7,38.1)(40.7,34.1)(41.4,34.1)(44.2,36.7)(48,37.6)(50,37.6)}
\R{lb}{(45.4,38.9)(46.8,40.4)(48,40.5)(50,40.5)(50,38.5)(48,38.5)(46.1,38.5)}
\R{ld}{(9.7,26.1)(11.5,28.7)(13.4,32.7)(15,33.6)(17.6,31.5)(20.1,28.9)(17.8,27.7)(12.9,25.5)(10.3,25.1)}
\R{lc}{(13,28.3)(13.4,30.1)(15,32.2)(16.9,30.6)(16.9,29.2)(13.8,27.5)}
\R{lb}{(14.2,29.4)(14.5,30.6)(15.5,31.1)(16.3,29.9)(15,28.6)}
\R{ld}{(1,21.3)(1.7,24.5)(2.6,25.7)(4.5,25.7)(5.5,24.3)(5.2,22.9)(3.1,20.8)(1.2,21)}
\R{lc}{(2.1,22.7)(2.4,24.1)(4,24.7)(4.9,23.4)(3.3,21.3)(2.4,21.7)}
\R{lb}{(2.5,22.7)(3,23.6)(4.3,23.4)(3.3,22)}
\R{le}{(9.9,18.5)(10.6,20.8)(13,21.4)(15,19.4)(14.3,16.6)(12,12.9)(10.8,13.3)(10.3,16.1)}
\R{ld}{(10.6,18.5)(11.6,20.9)(13,21)(14.3,18.9)(13.8,17.1)(12,15.9)(10.8,17.1)}
\R{lc}{(11,18.5)(12,19.8)(13.4,19.9)(14.2,18.5)(12.9,16.8)(11.5,17.1)}
\R{lb}{(11.6,18.7)(12.4,19.3)(13.3,18.9)(13.2,17.8)(11.9,17.5)}
\R{ld}{(22.6,23.8)(23.6,25.1)(25,24.8)(25.4,23.1)(23.9,21.4)(22.7,22.7)}
\R{lc}{(23.2,23.6)(23.9,24.5)(24.8,23.8)(24.6,22.7)(23.9,22.1)}
\R{lb}{(23.6,23.6)(24,24.1)(24.3,23.4)(23.9,22.8)}
\R{lg}{(15.8,22.7)(17.1,24.1)(21.1,24.5)(21.5,22.7)(22.2,19.4)(24.1,16.8)(26.9,14.3)(27.1,12.6)(22.9,12.5)(18,13.3)(16.2,14.7)(15.9,18)(16.4,20.3)}
\R{lg}{(-1,15.9)(1,15.9)(2.6,18.5)(5.9,20.1)(8.2,19.4)(9.1,16.6)(8.5,11.9)(5,9.3)(2.1,10)(1,10.9)(-1,10.9)}
\R{lg}{(12.1,7.7)(13.4,9.8)(14.8,10.9)(16,10.9)(18.3,7.7)(18,5.1)(15.5,4.2)(12.9,5.1)}
\R{le}{(-1,8.6)(1,8.6)(4.5,7.2)(8,6.9)(10.6,4.4)(15.2,2.3)(19.4,3)(21.3,4.4)(21.7,7.2)(21.1,8.6)(22,9.9)(29.3,9.3)(32.8,9)(34.2,9.6)(35.3,11.7)(40.5,12.4)(43.5,13.7)(44.9,14.9)(45.9,14.7)(46.1,11.9)(47,10)(48,9.3)(50,9.3)(50,-1)(-1,-1)}
\R{ld}{(27.9,5.8)(29.7,7)(33.9,7.9)(36.3,10.5)(38.6,11.4)(42.8,11.9)(44.7,8.2)(48,7.6)(50,7.6)(50,-1)(47.5,-1)(47.5,.9)(46.1,3.3)(44.2,7.2)(42.3,7.5)(39.1,6.3)(37.2,4.2)(33.9,3.7)(29.7,4.4)}
\R{lc}{(32.2,5.8)(35.8,7.9)(37.2,10)(39.1,10.6)(40.9,9.8)(38.1,7.2)(37,5.6)(34.4,4.8)(33,4.9)}
\R{lc}{(50,6.1)(48,6.1)(46.8,5.1)(47.5,3.5)(48,3.3)(50,3.3)}
\R{lg}{(29.3,-1)(29.3,.9)(30.4,2.3)(33,2.8)(35.3,2.1)(36.5,.9)(36.5,-1)}
\R{ld}{(21.3,-1)(21.3,.9)(24.1,2)(26.4,.9)(26.4,-1)}
\R{ld}{(-1,7.2)(1,7.2)(4,5.8)(8.2,3)(15.1,.9)(15.1,-1)(-1,-1)}
\R{lc}{(-1,6.1)(1,6.1)(3.6,5.4)(5.4,3)(5.9,.9)(5.9,-1)(-1,-1)}
\R{lb}{(-1,3.2)(1,3.2)(2.1,3.3)(3.4,2.6)(4.5,.9)(4.5,-1)(-1,-1)}
\R{le}{(2.6,-1)(2.6,.9)(3,2.3)(3.6,.9)(3.6,-1)}
\end{axis}
% ---- row 3, middle
\begin{axis}[frame,at={(204.36pt,9.21pt)}]\end{axis}
\begin{axis}[field,at={(207.65pt,12.5pt)}]
\B{lg}
\R{lh}{(-1,18.9)(1,18.9)(3.5,19.4)(7.7,22.8)(8.9,22.9)(9.3,21.7)(8.7,19.4)(9.8,15)(11.4,13.1)(12.9,13.8)(15.9,19.4)(15.7,20.8)(14.2,22.9)(14.3,24.1)(18.5,26.5)(20.8,25.7)(20.3,23.1)(21.7,19.4)(24.5,18.5)(27.3,20.3)(27.8,25)(26.9,29.7)(23.1,31.5)(20.3,32.9)(18.9,35.7)(18.9,36.2)(20.3,37.1)(23.1,36.2)(26.9,34.3)(28.7,34.3)(33.9,35.7)(36.7,35.5)(38.1,32.5)(40,30.8)(41.8,31.1)(45.6,34.3)(48,35.8)(50,35.8)(50,8.7)(48,8.7)(45.6,13.3)(42.1,13.1)(36.2,13.9)(32.2,13.3)(31.1,11.4)(29.7,9.6)(24.1,8.6)(23.4,7.2)(23.1,4.4)(20.8,2.3)(16.6,1.6)(11.4,3)(6.8,6.1)(3,7.2)(1,8.3)(-1,8.3)}
\R{lh}{(28.7,50)(28.7,48)(29.2,46)(31.5,44.2)(34.1,42.3)(34.3,39.3)(37.1,38.3)(40,39.5)(41.8,43.2)(41.7,46)(43.9,48)(43.9,50)}
\R{lh}{(-1,35.8)(1,35.8)(5.8,35.8)(9.1,34.8)(11,31.5)(10.5,28.7)(7.2,27)(3.5,27.4)(1,26.1)(-1,26.1)}
\R{li}{(30.1,26.9)(30.6,29.2)(32.5,30.4)(36.2,30.7)(39.5,29)(44.2,28.9)(45.4,28)(44.2,23.1)(44.4,18.9)(43,17.7)(42.8,21.7)(40.9,24.3)(35.7,26.7)(32.5,25)(31.1,24.5)(30.4,25.5)}
\R{li}{(15.1,10.5)(15.7,14.7)(17.8,18.7)(19.2,18.7)(20.3,16.6)(20.7,13.3)(19.4,8.2)(17.5,6.6)(16.1,7)}
\R{li}{(3.7,16)(4.7,17.5)(6.1,17.4)(5.8,16.1)(4.9,15.4)}
\R{lh}{(29.2,-1)(29.2,.9)(30.6,1.5)(35.3,1.6)(42.3,1.6)(43.9,.9)(43.9,-1)}
\R{lf}{(-1,36.8)(1,36.8)(4.9,37.6)(10.5,36.9)(12.9,36)(14.7,38.3)(16.4,39.7)(19.4,39.7)(23.1,37.6)(27.8,36.9)(30.6,38.1)(32,40.4)(28.7,44.6)(26.9,48)(26.9,50)(-1,50)}
\R{le}{(-1,37.4)(1,37.4)(6.8,38.8)(10,37.9)(12.9,36.7)(15,39.7)(18,41.1)(20.8,41.1)(24.1,38.8)(27.8,37.9)(30.1,38.6)(31.1,40.2)(29.7,42.3)(26.4,46.3)(24.1,47.1)(23.4,48)(20.8,46.3)(18.9,45.7)(16.8,46.5)(14.5,48)(14.5,50)(-1,50)}
\R{ld}{(-1,38.1)(1,38.1)(7,40.3)(9.8,38.9)(12.9,37.4)(15,40.2)(16.7,43.2)(16.6,45.1)(14.7,47.4)(11,47.3)(8.4,46)(7.2,45.9)(6.1,46.7)(3.6,46.7)(3.7,48)(3.7,50)(-1,50)}
\R{lb}{(-1,47.8)(1,47.8)(2.3,47.7)(2.9,48)(2.9,50)(-1,50)}
\R{le}{(3.4,44.9)(4,45.4)(5.6,43.5)(6.1,43.6)(6.9,43)(5.8,42.8)(5.1,43.2)(4.2,43.8)}
\R{le}{(-1,45.3)(1,45.3)(1.3,44.9)(1,44.2)(-1,44.2)}
\R{lc}{(9.6,41.4)(10.3,44.6)(12.1,46)(14.3,44.6)(15,41.8)(14,39.7)(12.1,38.8)(10.5,39.5)}
\R{lb}{(11,41.4)(12,42.7)(13.3,41.6)(13.1,40.7)(12.1,40)}
\R{lc}{(-1,43.5)(1,43.5)(2.3,43.9)(3.7,43)(4.7,40.9)(3.7,39.3)(1,38.4)(-1,38.4)}
\R{lb}{(-1,43)(1,43)(2.8,43)(4,41.6)(3.5,40)(1.6,39.4)(1,39.4)(-1,39.4)}
\R{la}{(1.4,41.6)(2.1,42.5)(2.8,41.6)(2.1,40.7)(1.4,40.9)}
\R{ld}{(21.7,43.2)(22.7,45.6)(24.3,46.5)(25.9,45.8)(28.7,42.3)(29.9,40.2)(29.2,38.8)(27.1,38.1)(24.5,38.9)(22.2,40.9)}
\R{lc}{(22.8,43.2)(23.6,45.1)(24.8,45.5)(26.4,44.2)(28.3,41.6)(29.2,40.2)(28.5,38.9)(26.9,38.6)(25,39.5)(23.1,41.4)}
\R{lb}{(23.8,43)(24.3,44.4)(25.2,44.4)(26.9,42.5)(28.2,40.7)(28.2,39.7)(26.9,39.3)(25,40.4)(24.1,41.6)}
\R{la}{(24.9,42.5)(25.5,43.1)(27.1,40.9)(26.9,40.5)(25.5,41.4)}
\R{lf}{(50,43.2)(48,43.2)(45.1,41.6)(40.9,36.7)(39.3,33.4)(40.4,32.1)(41.8,32.7)(45.6,36.2)(48,37.1)(50,37.1)}
\R{le}{(50,41.4)(48,41.4)(45.6,40.4)(40.9,34.8)(41.1,33.7)(43.2,34.8)(48,37.6)(50,37.6)}
\R{ld}{(44.1,38.1)(46.5,40.4)(48,41.3)(50,41.3)(50,38.3)(48,38.3)(46,38.3)}
\R{lf}{(47,50)(47,48)(48,45.8)(50,45.8)(50,50)}
\R{le}{(47.4,50)(47.4,48)(48,46.7)(50,46.7)(50,50)}
\R{lf}{(11.4,26.4)(11.4,29.2)(12.9,33.4)(14,34.8)(16.1,33.6)(18.2,31.3)(19.6,29)(16.6,27.1)(12.9,25.5)}
\R{le}{(12.5,28.3)(13.3,32.5)(15,33.2)(17.3,31.8)(18,30.1)(16.8,28.3)(14.3,26.8)}
\R{ld}{(13.3,29.2)(13.8,31.3)(15,32.2)(16.8,30.6)(16.6,28.9)(14.7,27.7)}
\R{lc}{(13.9,29.7)(15,31.5)(16.1,30.4)(15,28.5)}
\R{lb}{(14.7,30)(15.1,30.4)(15.4,29.9)(15.1,29.4)}
\R{lf}{(-1,25.5)(1,25.5)(3.3,27.1)(5.6,25.7)(6.4,23.8)(5.6,21.7)(3.3,20.1)(1,20)(-1,20)}
\R{le}{(1.2,23.8)(2.6,25.7)(4.4,25.5)(5.7,23.8)(4.9,21.7)(3.3,20.7)(1.6,21.3)}
\R{ld}{(1.2,22.7)(1.9,24.8)(3.7,25.2)(5.1,23.8)(4.7,22.2)(3.3,21.2)(1.6,21.7)}
\R{lc}{(1.5,22.9)(2.3,24.5)(3.7,24.8)(4.8,23.6)(4.2,22.4)(3,21.5)(1.9,22.2)}
\R{lb}{(2,22.9)(2.8,24.3)(4,24.1)(4.4,23.4)(3.5,22)(2.3,22)}
\R{la}{(2.6,23.6)(4,24.1)(4.4,23.4)(3.5,22.4)(2.8,22.4)}
\R{lf}{(9.5,18.9)(10.5,21)(12.1,21.6)(14.3,20.8)(15.1,18.9)(13.8,16.6)(12.1,15.9)(10.3,16.8)}
\R{le}{(10,18.7)(11,20.6)(12.4,21)(14,20.1)(14.5,18.7)(13.3,16.8)(11.9,16.4)(10.5,17.3)}
\R{ld}{(10.5,18.7)(11.2,20.1)(12.4,20.6)(13.7,19.6)(14,18.4)(12.9,17.3)(11.4,17.1)}
\R{lc}{(10.9,18.7)(11.5,19.8)(12.5,20.1)(13.6,19.2)(13.6,18.2)(12.6,17.5)(11.4,17.8)}
\R{lb}{(11.7,17.8)(11.8,18.9)(12.9,19)(12.9,18)}
\R{lf}{(21.2,23.1)(22.2,26.4)(24.1,27.8)(25.9,26.4)(27.1,23.6)(26.4,20.8)(24.1,19.2)(22.2,20.1)}
\R{le}{(21.7,23.4)(22.4,25.7)(24.1,26.9)(25.7,25.7)(26.4,23.6)(25.7,21.3)(23.8,20.1)(22.4,21)}
\R{ld}{(22,23.4)(22.7,25.2)(24.1,26)(25.5,25.2)(25.9,23.4)(25.2,21.7)(23.8,20.8)(22.7,21.5)}
\R{lc}{(22.4,23.4)(23.1,25)(24.1,25.6)(25.2,24.8)(25.5,23.4)(24.8,22)(23.8,21.4)(22.9,22)}
\R{lb}{(22.9,23.4)(23.8,24.8)(25,24.1)(25.2,22.9)(24.3,21.7)(23.1,22.2)}
\R{la}{(23.5,23)(24,23.6)(24.5,23)(24,22.7)}
\R{lf}{(26.9,5.6)(27.8,7)(31.1,8.9)(32.5,11.4)(35.7,12.6)(40.9,12.4)(43,10.3)(42.8,9.1)(39,4.9)(35.3,3)(31.5,3.3)(27.8,4.2)}
\R{le}{(29.7,6.1)(30.6,7.7)(33.4,9.1)(35.3,11.4)(39.5,11.7)(41.4,10.5)(41.1,8.6)(37.6,5.8)(33.4,4.2)(30.6,4.7)}
\R{ld}{(31.3,6.1)(32.9,7.9)(34.8,8.6)(36.7,10.5)(39,11.2)(40.9,10.3)(40.2,8.4)(36.7,6.1)(33.9,4.9)(32,4.9)}
\R{lc}{(32.9,5.9)(34.8,7)(36.4,8.2)(37.1,9.6)(39,10.4)(40.2,9.6)(40,8.6)(37.6,7)(34.8,5.4)(33.6,5.4)}
\R{lf}{(50,7.5)(48,7.5)(46.3,6.1)(45.8,4.4)(46.3,.9)(46.3,-1)(50,-1)}
\R{le}{(50,6.3)(48,6.3)(47,5.4)(47.2,.9)(47.2,-1)(50,-1)}
\R{ld}{(50,5.4)(48,5.4)(47.4,4.4)(47.4,.9)(47.4,-1)(50,-1)}
\R{lf}{(21.3,-1)(21.3,.9)(23.6,1.9)(26.4,.9)(26.4,-1)}
\R{lf}{(-1,7.5)(1,7.5)(3.5,6.5)(6.8,4.2)(10,2.6)(14.3,.9)(14.3,-1)(-1,-1)}
\R{le}{(-1,7)(1,7)(3.5,6.1)(5.8,3.5)(7.5,.9)(7.5,-1)(-1,-1)}
\R{ld}{(-1,6.3)(1,6.3)(3,5.8)(5.1,3)(5.4,.9)(5.4,-1)(-1,-1)}
\R{lc}{(-1,5.1)(1,5.1)(2.8,4.2)(3.7,.9)(3.7,-1)(-1,-1)}
\R{lb}{(-1,3.5)(1,3.5)(2.3,3.3)(3,.9)(3,-1)(-1,-1)}
\R{la}{(-1,2.6)(1,2.6)(2.1,2.3)(2.5,.9)(2.5,-1)(-1,-1)}
\R{lg}{(50,24.4)(48,24.4)(47.3,22.4)(48,20.3)(50,20.3)}
\end{axis}
% ---- row 3, right
\begin{axis}[frame,at={(396.36pt,9.21pt)}]\end{axis}
\begin{axis}[field,at={(399.65pt,12.5pt)}]
\B{lg}
\R{lh}{(6.3,50)(6.3,48)(7.2,47)(11.9,47.4)(17.5,45.8)(19.9,46)(23.6,48)(23.6,50)}
\R{lh}{(24.3,50)(24.3,48)(26.9,45.1)(32,40.9)(35.7,42.1)(40,42.8)(41.8,41.4)(41.6,40)(38.1,33.4)(38.1,31.1)(40.4,29.2)(42.5,30.1)(45.1,35.7)(43.9,38.1)(46.7,44.6)(45.7,48)(45.7,50)}
\R{lg}{(30.1,50)(30.1,48)(31.1,46.3)(32.2,45.9)(33.9,46.5)(34.8,48)(34.8,50)}
\R{li}{(43.2,46)(44.2,46.1)(45.1,44.7)(44.4,44.6)}
\R{lh}{(16,39.7)(17.1,41.6)(18.9,42.2)(20.3,41.4)(21.6,39)(20.8,38.1)(17.3,38.1)(16.4,38.8)}
\R{lh}{(17.8,26.9)(18.5,31.3)(23.1,33.2)(24.3,36.2)(26.9,36.4)(27.8,35.7)(26.9,33.4)(28.7,26.4)(28,25.7)(26.4,26.9)(23.1,28.3)(19.4,26.2)}
\R{lh}{(1.6,26.9)(2.1,28.5)(6.3,29.7)(11.2,29.4)(12.9,27.3)(13.8,25.9)(13.8,25)(8.6,22.3)(7,23.1)(4.9,25.7)}
\R{lh}{(25.2,18.9)(28.3,22.9)(29,23.1)(30,16.1)(28.7,15.7)(26.4,16.8)}
\R{lh}{(50,10)(48,10)(47,12.9)(46.7,16)(45.6,16)(42.3,13.1)(42.5,11.4)(43.5,9.6)(41.8,7)(37.6,4.9)(34.8,2.6)(34.8,-1)(50,-1)}
\R{lh}{(-1,9.1)(1,9.1)(3.5,7.5)(8.9,7.9)(11,5.1)(15.7,3.4)(19.4,5.4)(20.3,8.2)(20.6,10.7)(28.7,9.1)(28.7,4.9)(30.1,3)(30.1,-1)(-1,-1)}
\R{li}{(8.2,2)(9,2.7)(10.7,2)(10,1.2)(8.9,1.3)}
\R{lf}{(-1,37.5)(1,37.5)(5.4,38.3)(8.2,39.3)(11,37.4)(12.9,32.9)(13.8,28.7)(15.2,27.8)(16.8,29.7)(16.6,31.8)(13.8,36.9)(15.7,43.2)(14.7,45.6)(12.4,46.3)(10,46)(7.9,43.9)(6.8,43.9)(4.9,48)(4.9,50)(-1,50)}
\R{le}{(-1,38.2)(1,38.2)(3.5,38.8)(5.1,40.7)(5.4,42.5)(4.3,45.1)(4.3,48)(4.3,50)(-1,50)}
\R{ld}{(-1,38.8)(1,38.8)(3.5,39.5)(4.8,41.4)(4.2,44.2)(3.5,45.6)(3.7,48)(3.7,50)(-1,50)}
\R{lc}{(-1,39.5)(1,39.5)(3.3,40)(4.2,41.6)(3.7,43.9)(1,44.6)(-1,44.6)}
\R{lb}{(-1,40)(1,40)(3,40.4)(3.7,41.8)(3.3,43.7)(1,43.8)(-1,43.8)}
\R{lc}{(-1,47.1)(1,47.1)(2.3,46.9)(3.3,48)(3.3,50)(-1,50)}
\R{le}{(9.7,41.4)(10.5,44.2)(12.1,45)(14,43.9)(14.5,41.8)(13.3,39.7)(11.9,39)(10.3,39.7)}
\R{ld}{(10.8,41.6)(11.9,43.1)(13.1,43.2)(13.6,41.9)(11.9,40.2)(10.8,40.9)}
\R{le}{(14.3,30.1)(15,31.4)(15.9,30.6)(16,29.4)(15.1,28.5)(14.5,29)}
\R{lf}{(-1,24.5)(1,24.5)(3,25.6)(4.9,25)(5.7,23.4)(5.1,21.3)(2.8,20.5)(1,21)(-1,21)}
\R{le}{(1.4,23.4)(2.8,25)(4.7,24.5)(5.1,23.4)(4,21.7)(2.1,21.7)}
\R{ld}{(1.7,23.4)(2.8,24.6)(4.9,24.3)(4.4,23.1)(3,22.2)(2.1,22.4)}
\R{lc}{(2.2,23.8)(3.5,24.4)(4.9,24.1)(4,22.9)(2.8,22.9)}
\R{lb}{(2.8,24.1)(3.7,24.1)(3.5,22.9)(2.9,22.9)}
\R{lf}{(18.5,20.3)(19.6,23.8)(22.7,26.4)(24.5,26.6)(26.4,24.5)(26.4,22.7)(24.5,20.3)(21.7,18.5)(18.9,18.9)}
\R{le}{(21.5,22.9)(22.7,25.5)(24.3,25.9)(25.9,23.8)(25.5,21.7)(23.1,20.7)(21.7,21.7)}
\R{ld}{(22,23.1)(23.1,24.8)(24.5,25)(25.5,23.1)(24.5,21.3)(22.9,21.3)}
\R{lc}{(23,22.9)(24,24.2)(24.8,22.9)(24.1,21.7)(23.4,22)}
\R{lf}{(3.4,13.1)(4.9,17.8)(8.6,19)(10.5,20.8)(12.6,21.4)(14.5,19.4)(14.5,17.5)(12.1,16)(8.9,15.9)(5.8,12.4)(4.7,12.1)}
\R{le}{(10.5,18.5)(11.2,20.1)(12.6,20.3)(13.7,18.9)(13.6,17.5)(12.1,16.8)(11,17.1)}
\R{ld}{(11.2,18.7)(12.1,19.9)(13.1,18.7)(12.9,17.8)(11.9,17.3)}
\R{lf}{(31.3,31.5)(33.9,38.1)(36.2,39.2)(37.1,39)(37.1,38.1)(35.3,36.2)(35.3,31.1)(36.7,27.8)(41.4,25.5)(43.7,21.3)(42.8,17.5)(39.3,13.1)(39.5,12.1)(42.1,11)(42.1,9.1)(40.4,6.1)(37.6,4.9)(35.3,4.2)(31.5,4.4)(30.6,6.3)(31.8,10.7)(34.8,12.1)(35.3,13.3)(32.9,20.3)(32.7,25.9)}
\R{le}{(31.5,6.5)(33.4,9.1)(37.1,10.7)(40.7,10.7)(41.4,9.1)(40,7.2)(36.2,5.4)(32.5,4.9)}
\R{ld}{(32.9,6.3)(35.7,8.6)(38.6,10.1)(40.4,10)(40.9,8.9)(39,7.5)(36.7,6.3)(33.9,5.7)}
\R{lh}{(35.3,12)(36.2,12.6)(37.6,12)(36.2,11.8)}
\R{lf}{(21.3,43.5)(22.2,45.6)(24.3,46.7)(26.4,45.3)(30.6,39.7)(30.1,38.1)(27.8,37.6)(24.5,38.8)(22,41.4)}
\R{le}{(22.1,43.5)(23.1,45.3)(24.5,45.9)(26.4,44.6)(29.7,39.7)(29.2,38.5)(27.3,38.3)(24.5,39.7)(22.4,41.8)}
\R{ld}{(22.7,43.5)(23.6,44.9)(24.8,45.3)(26.4,43.9)(29.2,40.2)(28.5,38.9)(26.9,39)(24.5,40.4)(22.9,42.3)}
\R{lc}{(23.4,43.5)(24.1,44.4)(24.8,44.6)(26.4,43.2)(28.5,40.4)(28,39.6)(26.6,39.7)(24.5,41.1)(23.6,42.3)}
\R{lb}{(24.8,42.5)(25.2,43)(27.1,40.7)(26.7,40.5)(25.2,41.6)}
\R{lf}{(50,44.4)(48,44.4)(46.7,43.2)(45.8,39)(46.5,38.1)(48,38.1)(50,38.1)}
\R{le}{(50,43.7)(48,43.7)(47.2,42.5)(46.5,40)(48,38.8)(50,38.8)}
\R{ld}{(50,42.8)(48,42.8)(47.4,41.6)(47.2,40)(48,39.4)(50,39.4)}
\R{lc}{(50,41.9)(48,41.9)(47.7,41.2)(48,40.4)(50,40.4)}
\R{lf}{(47,50)(47,48)(48,46)(50,46)(50,50)}
\R{le}{(47.7,50)(47.7,48)(48,47)(50,47)(50,50)}
\R{lf}{(50,23.4)(48,23.4)(47.8,22.7)(48,21.7)(50,21.7)}
\R{lf}{(-1,6.1)(1,6.1)(3,5.6)(4.7,3.7)(6,.9)(6,-1)(-1,-1)}
\R{le}{(-1,5)(1,5)(3,4.7)(4.7,2.1)(4.9,.9)(4.9,-1)(-1,-1)}
\R{ld}{(-1,4.2)(1,4.2)(3,3.7)(4.2,.9)(4.2,-1)(-1,-1)}
\R{lc}{(-1,3.3)(1,3.3)(2.3,3)(3.5,.9)(3.5,-1)(-1,-1)}
\R{lb}{(-1,1.4)(1,1.4)(2.1,1.2)(2.2,.9)(2.2,-1)(-1,-1)}
\R{lg}{(50,6.1)(48,6.1)(46.3,4.9)(45.6,.9)(45.6,-1)(50,-1)}
\R{lf}{(50,4.9)(48,4.9)(47,4)(46.4,.9)(46.4,-1)(50,-1)}
\R{le}{(50,4)(48,4)(47.4,3.3)(47.2,.9)(47.2,-1)(50,-1)}
\R{ld}{(50,3)(48,3)(47.7,2.3)(47.7,.9)(47.7,-1)(50,-1)}
\end{axis}
\end{tikzpicture}
\end{document}
